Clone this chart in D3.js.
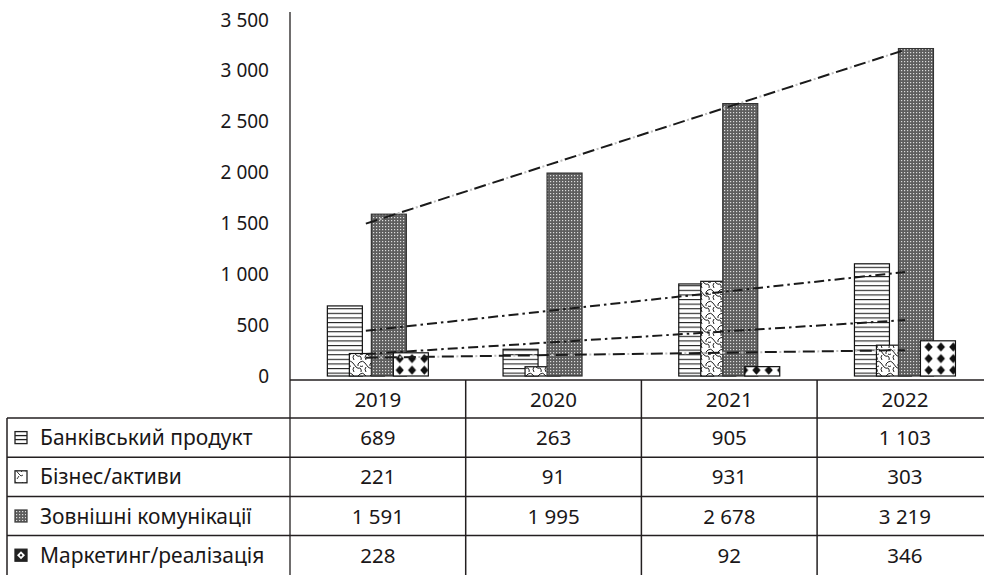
<!DOCTYPE html>
<html>
<head>
<meta charset="utf-8">
<script src="https://cdn.jsdelivr.net/npm/d3@7"></script>
<style>
  html, body { margin: 0; padding: 0; background: #fff; }
  svg { display: block; }
  text { font-family: "Noto Sans", "Open Sans", sans-serif; fill: #1a1718; }
</style>
</head>
<body>
<svg id="chart" width="984" height="575"></svg>
<script>
// ---- data ----
const categories = ["2019", "2020", "2021", "2022"];
const seriesNames = ["Банківський продукт", "Бізнес/активи", "Зовнішні комунікації", "Маркетинг/реалізація"];
const bankValues = [689, 263, 905, 1103];
const bizValues = [221, 91, 931, 303];
const extValues = [1591, 1995, 2678, 3219];
const mktValues = [228, null, 92, 346];
const yTickValues = [0, 500, 1000, 1500, 2000, 2500, 3000, 3500];

const seriesValues = [bankValues, bizValues, extValues, mktValues];
const patternIds = ["pBank", "pBiz", "pExt", "pMkt"];
const trendStyles = [
  { dash: "10 4 2.5 4", dot: null },
  { dash: "10 4 2.5 4", dot: null },
  { dash: "12 7", dot: "2 17", dotOffset: -14.5 },
  { dash: "12 7", dot: "2 17", dotOffset: -14.5 }
];

const svg = d3.select("#chart");
const fmt = d3.formatLocale({ decimal: ",", thousands: " ", grouping: [3], currency: ["", ""] }).format(",d");

// ---- patterns ----
const defs = svg.append("defs");
const p1 = defs.append("pattern").attr("id", "pBank").attr("patternUnits", "userSpaceOnUse")
  .attr("width", 8).attr("height", 4.6);
p1.append("rect").attr("width", 8).attr("height", 4.6).attr("fill", "#fff");
p1.append("rect").attr("y", 0).attr("width", 8).attr("height", 1.1).attr("fill", "#222");

const p2 = defs.append("pattern").attr("id", "pBiz").attr("patternUnits", "userSpaceOnUse")
  .attr("width", 12).attr("height", 12);
p2.append("rect").attr("width", 12).attr("height", 12).attr("fill", "#fff");
p2.append("path").attr("d", "M0,2 Q3,0 5,3 L8,7 Q10,9 12,8 M6,12 Q4,9 6,7 M12,2 Q9,4 10,6 M0,8 Q2,10 1,12 M3,6 Q1,7 0,6")
  .attr("fill", "none").attr("stroke", "#222").attr("stroke-width", 1);

const p3 = defs.append("pattern").attr("id", "pExt").attr("patternUnits", "userSpaceOnUse")
  .attr("width", 3).attr("height", 3);
p3.append("rect").attr("width", 3).attr("height", 3).attr("fill", "#5e5e5e");
p3.append("rect").attr("x", 1).attr("y", 1).attr("width", 1.2).attr("height", 1.2).attr("fill", "#dcdcdc");

const dw = 12.3, dh = 11.6, rx = 4.1, ry = 4.6;
const p4 = defs.append("pattern").attr("id", "pMkt").attr("patternUnits", "userSpaceOnUse")
  .attr("width", dw).attr("height", dh).attr("y", 376);
p4.append("rect").attr("width", dw).attr("height", dh).attr("fill", "#fff");
p4.append("path")
  .attr("d", `M${dw / 2},${dh / 2 - ry} L${dw / 2 + rx},${dh / 2} L${dw / 2},${dh / 2 + ry} L${dw / 2 - rx},${dh / 2} Z`)
  .attr("fill", "#111");

const pi2 = defs.append("pattern").attr("id", "iBiz").attr("patternUnits", "userSpaceOnUse")
  .attr("width", 12).attr("height", 12);
pi2.append("rect").attr("width", 12).attr("height", 12).attr("fill", "#fff");
pi2.append("path").attr("d", "M1,3 L4,2 L6,5 L9,8 L11,7 M5,11 L7,8 M11,2 L9,4").attr("fill", "none")
  .attr("stroke", "#222").attr("stroke-width", 0.9);

// ---- scales ----
const x = d3.scaleBand().domain(categories).range([290, 290 + 4 * 175.7]).padding(0);
const y = d3.scaleLinear().domain([0, 3500]).range([376, 20]);

const barW = 35, barStep = 22;
const groupW = barStep * 3 + barW;

// ---- y axis ----
svg.append("line").attr("x1", 290).attr("x2", 290).attr("y1", 12).attr("y2", 575)
  .attr("stroke", "#231f20").attr("stroke-width", 1.3);
svg.append("g").selectAll("text").data(yTickValues).join("text")
  .attr("x", 269).attr("y", d => y(d) + 6.5).attr("text-anchor", "end")
  .style("font-size", "19px").text(d => fmt(d));

// ---- bars ----
seriesValues.forEach((vals, si) => {
  const g = svg.append("g");
  g.selectAll("rect").data(categories.map((c, i) => ({ c, v: vals[i] })).filter(d => d.v != null))
    .join("rect")
    .attr("x", d => x(d.c) + x.bandwidth() / 2 - groupW / 2 + si * barStep)
    .attr("y", d => y(d.v))
    .attr("width", barW)
    .attr("height", d => y(0) - y(d.v))
    .attr("fill", `url(#${patternIds[si]})`)
    .attr("stroke", si === 2 ? "#333" : "#111")
    .attr("stroke-width", 1.2);
});

// ---- trend lines (linear least squares over available points) ----
seriesValues.forEach((vals, si) => {
  const pts = vals.map((v, i) => [i + 1, v]).filter(p => p[1] != null);
  const mx = d3.mean(pts, p => p[0]), my = d3.mean(pts, p => p[1]);
  const slope = d3.sum(pts, p => (p[0] - mx) * (p[1] - my)) / d3.sum(pts, p => (p[0] - mx) ** 2);
  const f = t => my + slope * (t - mx);
  const cx = t => x(categories[t - 1]) + x.bandwidth() / 2;
  const x1 = cx(1) - 12, x2 = cx(4);
  const t1 = 1 - 12 / x.bandwidth();
  const st = trendStyles[si];
  if (st.dot) {
    svg.append("line").attr("x1", x1).attr("y1", y(f(t1))).attr("x2", x2).attr("y2", y(f(4)))
      .attr("stroke", "#bdbdbd").attr("stroke-width", 2).attr("stroke-dasharray", st.dot)
      .attr("stroke-dashoffset", st.dotOffset);
  }
  svg.append("line").attr("x1", x1).attr("y1", y(f(t1))).attr("x2", x2).attr("y2", y(f(4)))
    .attr("stroke", "#1a1a1a").attr("stroke-width", 2).attr("stroke-dasharray", st.dash);
});

// ---- data table ----
const tableTop = 380, headerBottom = 418, rowH = 39.2;
const tableRight = 1000;
const lineColor = "#231f20";
const tg = svg.append("g");
tg.append("line").attr("x1", 290).attr("x2", tableRight).attr("y1", tableTop).attr("y2", tableTop)
  .attr("stroke", lineColor).attr("stroke-width", 1.5);
d3.range(4).forEach(r => {
  const yy = headerBottom + r * rowH;
  tg.append("line").attr("x1", 7).attr("x2", tableRight).attr("y1", yy).attr("y2", yy)
    .attr("stroke", lineColor).attr("stroke-width", 1.5);
});
tg.append("line").attr("x1", 7).attr("x2", 7).attr("y1", headerBottom).attr("y2", 575)
  .attr("stroke", lineColor).attr("stroke-width", 1.5);
categories.slice(1).forEach(c => {
  tg.append("line").attr("x1", x(c)).attr("x2", x(c)).attr("y1", tableTop).attr("y2", 575)
    .attr("stroke", lineColor).attr("stroke-width", 1.5);
});
tg.selectAll("text.hdr").data(categories).join("text").attr("class", "hdr")
  .attr("x", d => x(d) + x.bandwidth() / 2).attr("y", (tableTop + headerBottom) / 2 + 7.5)
  .attr("text-anchor", "middle").style("font-size", "20.5px").text(d => d);
seriesNames.forEach((name, si) => {
  const top = headerBottom + si * rowH;
  const mid = top + rowH / 2;
  const ix = 15, iy = mid - 6, isz = 12;
  if (si === 0) {
    tg.append("rect").attr("x", ix).attr("y", iy).attr("width", isz).attr("height", isz)
      .attr("fill", "#fff").attr("stroke", "#222").attr("stroke-width", 1.3);
    [iy + 4, iy + 8].forEach(ly => tg.append("line").attr("x1", ix).attr("x2", ix + isz)
      .attr("y1", ly).attr("y2", ly).attr("stroke", "#222").attr("stroke-width", 1.3));
  } else if (si === 1) {
    tg.append("rect").attr("x", ix).attr("y", iy).attr("width", isz).attr("height", isz)
      .attr("fill", "url(#iBiz)").attr("stroke", "#222").attr("stroke-width", 1.3);
  } else if (si === 2) {
    tg.append("rect").attr("x", ix).attr("y", iy).attr("width", isz).attr("height", isz)
      .attr("fill", "url(#pExt)").attr("stroke", "#444").attr("stroke-width", 1.3);
  } else {
    tg.append("rect").attr("x", ix).attr("y", iy).attr("width", isz).attr("height", isz)
      .attr("fill", "#222").attr("stroke", "#222").attr("stroke-width", 1.3);
    tg.append("path").attr("d", `M${ix + 6},${iy + 2} L${ix + 10},${iy + 6} L${ix + 6},${iy + 10} L${ix + 2},${iy + 6} Z`)
      .attr("fill", "#fff");
    tg.append("path").attr("d", `M${ix + 6},${iy + 4.5} L${ix + 7.5},${iy + 6} L${ix + 6},${iy + 7.5} L${ix + 4.5},${iy + 6} Z`)
      .attr("fill", "#222");
  }
  tg.append("text").attr("x", 40).attr("y", mid + 7.5).style("font-size", "21px").text(name);
  categories.forEach((c, ci) => {
    const v = seriesValues[si][ci];
    if (v == null) return;
    tg.append("text").attr("x", x(c) + x.bandwidth() / 2).attr("y", mid + 7.5)
      .attr("text-anchor", "middle").style("font-size", "20.5px").text(fmt(v));
  });
});
</script>
</body>
</html>
